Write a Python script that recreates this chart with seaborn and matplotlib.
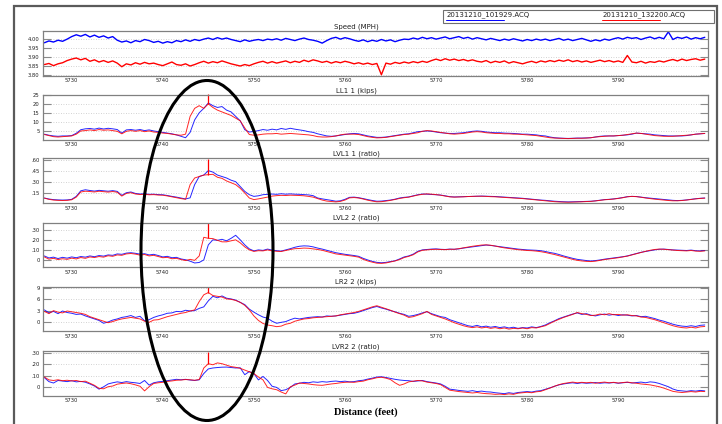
import numpy as np
import pandas as pd
import matplotlib
matplotlib.use("Agg")
import matplotlib.pyplot as plt
from matplotlib.patches import Ellipse, Rectangle
from matplotlib.lines import Line2D
import seaborn as sns

# distance along the track (feet), one reading every half foot
dist = np.arange(5727.0, 5800.0, 0.5)

run_names = ["20131210_101929.ACQ", "20131210_132200.ACQ"]
run_colors = ["#0000ff", "#ff0000"]

speed_blue = [3.978, 3.988, 3.982, 3.992, 3.986, 3.998, 4.012, 4.022, 4.014, 4.024,
              4.010, 4.020, 4.008, 4.016, 4.004, 4.012, 3.992, 3.982, 3.988, 3.978,
              3.990, 3.984, 3.996, 3.990, 3.980, 3.986, 3.976, 3.984, 3.978, 3.990,
              3.984, 3.994, 3.986, 3.996, 3.990, 3.998, 4.004, 3.996, 4.006, 3.998,
              4.004, 3.996, 3.990, 3.984, 3.994, 3.986, 3.992, 3.996, 3.990, 3.998,
              3.994, 4.000, 3.992, 4.002, 3.996, 3.990, 3.998, 4.004, 3.996, 3.992,
              3.986, 3.976, 3.990, 4.002, 4.008, 3.998, 4.006, 4.000, 3.992, 3.986,
              3.994, 3.984, 3.992, 3.986, 3.996, 3.988, 3.994, 3.984, 3.992, 3.998,
              3.996, 4.004, 3.998, 4.008, 4.000, 4.006, 3.998, 4.004, 4.010, 4.000,
              4.006, 4.012, 4.002, 4.008, 3.998, 4.006, 4.000, 3.994, 4.002, 3.996,
              3.990, 3.998, 3.992, 4.000, 3.994, 3.988, 3.996, 3.990, 3.998, 3.992,
              3.998, 3.990, 3.996, 4.002, 3.992, 3.998, 3.990, 3.996, 4.002, 3.994,
              3.986, 3.994, 3.988, 3.998, 3.992, 4.000, 4.006, 3.998, 4.008, 4.002,
              4.006, 3.996, 4.004, 4.010, 4.000, 4.008, 4.000, 4.038, 3.996, 4.008,
              4.002, 4.010, 3.998, 4.006, 4.000, 4.008]
speed_red = [3.858, 3.864, 3.852, 3.862, 3.868, 3.880, 3.888, 3.894, 3.884, 3.892,
             3.876, 3.884, 3.872, 3.880, 3.870, 3.878, 3.866, 3.846, 3.862, 3.856,
             3.868, 3.860, 3.870, 3.862, 3.866, 3.858, 3.852, 3.862, 3.872, 3.858,
             3.854, 3.862, 3.850, 3.858, 3.868, 3.876, 3.866, 3.874, 3.868, 3.878,
             3.870, 3.862, 3.856, 3.850, 3.858, 3.852, 3.862, 3.870, 3.876, 3.866,
             3.874, 3.866, 3.872, 3.878, 3.868, 3.876, 3.870, 3.882, 3.874, 3.884,
             3.878, 3.870, 3.876, 3.866, 3.874, 3.868, 3.876, 3.870, 3.862, 3.868,
             3.860, 3.866, 3.858, 3.864, 3.802, 3.866, 3.860, 3.870, 3.864, 3.872,
             3.866, 3.874, 3.868, 3.876, 3.870, 3.880, 3.888, 3.880, 3.890, 3.882,
             3.888, 3.880, 3.886, 3.878, 3.884, 3.876, 3.872, 3.880, 3.868, 3.876,
             3.870, 3.878, 3.866, 3.874, 3.868, 3.862, 3.870, 3.876, 3.868, 3.878,
             3.872, 3.880, 3.874, 3.882, 3.876, 3.884, 3.874, 3.880, 3.872, 3.878,
             3.870, 3.876, 3.882, 3.874, 3.880, 3.872, 3.878, 3.870, 3.908, 3.872,
             3.868, 3.876, 3.866, 3.874, 3.870, 3.878, 3.872, 3.880, 3.886, 3.878,
             3.888, 3.880, 3.886, 3.890, 3.882, 3.888]

ll1_blue = [3.0, 2.4, 2.0, 1.8, 2.0, 2.0, 2.2, 3.5, 5.5, 6.0,
            6.2, 5.8, 6.4, 5.9, 6.3, 6.0, 5.6, 3.6, 5.4, 5.6,
            5.2, 5.6, 5.0, 5.4, 4.8, 4.4, 4.0, 3.6, 3.2, 2.6,
            1.8, 1.0, 4.0, 11.0, 15.0, 17.5, 20.5, 19.0, 18.0, 18.5,
            16.5, 15.5, 13.0, 10.5, 5.5, 4.2, 4.5, 5.0, 5.6, 5.2,
            5.8, 5.4, 6.2, 5.7, 6.3, 5.8, 5.4, 5.0, 4.4, 4.0,
            3.2, 2.6, 2.0, 1.8, 2.0, 2.4, 2.8, 3.2, 3.4, 3.2,
            2.6, 2.0, 1.6, 1.2, 1.2, 1.4, 1.8, 2.2, 2.6, 3.0,
            3.2, 3.8, 4.4, 4.6, 4.8, 4.6, 4.2, 3.8, 3.6, 3.4,
            3.4, 3.6, 3.8, 4.2, 4.6, 4.8, 4.6, 4.2, 4.0, 3.8,
            3.8, 3.6, 3.5, 3.4, 3.2, 3.0, 3.0, 2.8, 2.6, 2.2,
            2.0, 1.4, 1.0, 0.8, 0.7, 0.6, 0.7, 0.8, 0.8, 0.9,
            1.0, 1.4, 1.8, 2.0, 2.0, 2.0, 2.2, 2.4, 2.6, 3.0,
            3.6, 3.4, 3.2, 3.0, 2.6, 2.4, 2.2, 2.0, 2.0, 2.0,
            2.0, 2.2, 2.6, 3.0, 3.2, 3.4]
ll1_red = [2.8, 2.2, 1.6, 1.4, 1.6, 1.8, 2.0, 3.0, 4.8, 5.0,
           5.4, 5.0, 5.6, 5.2, 5.4, 5.0, 4.6, 3.2, 4.6, 5.0,
           4.6, 5.0, 4.4, 4.8, 4.2, 4.0, 3.6, 3.4, 3.0, 2.6,
           2.4, 3.0, 13.0, 17.5, 19.0, 17.5, 20.0, 18.0, 16.5, 15.5,
           14.5, 13.5, 12.0, 10.5, 6.5, 2.8, 2.4, 2.6, 3.0, 3.2,
           3.2, 3.4, 3.0, 3.2, 3.4, 3.2, 3.0, 2.8, 2.6, 2.2,
           1.6, 1.4, 1.4, 1.6, 2.0, 2.6, 3.0, 3.0, 3.0, 2.8,
           2.2, 1.6, 1.2, 0.9, 1.0, 1.2, 1.6, 2.0, 2.4, 2.8,
           3.0, 3.4, 3.8, 4.6, 5.0, 4.8, 4.4, 4.0, 3.6, 3.2,
           3.0, 3.2, 3.4, 3.8, 4.2, 4.4, 4.2, 3.8, 3.6, 3.4,
           3.4, 3.2, 3.2, 3.0, 3.0, 2.8, 2.6, 2.4, 2.2, 1.8,
           1.4, 1.0, 0.8, 0.7, 0.6, 0.5, 0.6, 0.7, 0.7, 0.8,
           1.0, 1.4, 1.6, 1.8, 2.0, 2.0, 2.2, 2.4, 2.8, 3.2,
           3.6, 3.4, 3.0, 2.6, 2.2, 2.0, 1.8, 1.8, 1.8, 2.0,
           2.2, 2.4, 2.6, 3.0, 3.2, 3.4]

lvl1_blue = [.078, .064, .056, .052, .050, .052, .060, .100, .176, .190,
             .180, .172, .182, .176, .170, .178, .168, .114, .150, .160,
             .140, .132, .136, .128, .130, .124, .122, .112, .100, .090,
             .078, .065, .080, .260, .370, .390, .450, .430, .390, .370,
             .350, .320, .300, .235, .168, .123, .100, .108, .123, .128,
             .132, .128, .136, .130, .134, .130, .128, .124, .120, .110,
             .078, .066, .056, .046, .034, .040, .060, .087, .090, .082,
             .070, .056, .044, .034, .036, .043, .050, .062, .078, .087,
             .092, .108, .122, .132, .130, .126, .123, .118, .108, .096,
             .092, .094, .096, .098, .100, .102, .104, .102, .100, .098,
             .094, .090, .086, .082, .078, .074, .068, .062, .056, .050,
             .046, .040, .034, .030, .027, .025, .026, .028, .030, .032,
             .034, .040, .048, .056, .060, .066, .074, .084, .096, .100,
             .098, .090, .082, .076, .070, .064, .058, .052, .046, .043,
             .046, .052, .060, .068, .074, .078]
lvl1_red = [.076, .060, .050, .046, .044, .046, .054, .090, .160, .170,
            .166, .160, .170, .164, .158, .166, .156, .104, .140, .150,
            .132, .126, .128, .122, .124, .118, .116, .106, .094, .082,
            .070, .060, .260, .350, .370, .390, .395, .400, .360, .345,
            .310, .285, .260, .210, .146, .078, .056, .066, .078, .090,
            .104, .110, .114, .112, .116, .114, .112, .108, .100, .090,
            .070, .050, .036, .030, .025, .032, .050, .080, .084, .078,
            .064, .048, .036, .026, .028, .036, .046, .058, .072, .082,
            .090, .104, .118, .128, .134, .130, .124, .116, .104, .094,
            .090, .092, .094, .098, .100, .102, .102, .100, .096, .094,
            .090, .086, .082, .078, .074, .070, .064, .058, .052, .046,
            .040, .034, .028, .024, .022, .020, .022, .024, .026, .030,
            .032, .038, .046, .054, .058, .064, .072, .082, .094, .100,
            .096, .088, .078, .070, .062, .056, .050, .044, .040, .040,
            .044, .050, .058, .066, .072, .076]

lvl2_blue = [.040, .020, .028, .014, .026, .018, .030, .022, .034, .028,
             .040, .032, .044, .038, .050, .046, .060, .056, .068, .072,
             .066, .058, .062, .050, .056, .044, .030, .036, .022, .026,
             .010, .002, -.012, -.030, -.025, .000, .150, .200, .195, .205,
             .190, .215, .245, .200, .150, .110, .090, .100, .095, .108,
             .098, .092, .088, .100, .112, .126, .136, .140, .138, .130,
             .118, .108, .096, .084, .072, .064, .056, .050, .044, .036,
             .016, .000, -.014, -.024, -.028, -.024, -.016, -.008, .010, .030,
             .040, .058, .086, .100, .104, .108, .110, .106, .104, .108,
             .106, .110, .118, .124, .130, .136, .142, .148, .144, .138,
             .132, .126, .120, .114, .108, .104, .100, .098, .096, .092,
             .084, .074, .066, .054, .040, .028, .016, .006, .000, -.006,
             -.010, -.006, .000, .008, .014, .020, .026, .032, .040, .052,
             .064, .076, .084, .092, .100, .106, .108, .104, .100, .098,
             .096, .094, .098, .092, .090, .094]
lvl2_red = [.030, .008, .016, .004, .012, .006, .018, .010, .024, .016,
            .030, .024, .034, .028, .042, .036, .050, .046, .060, .064,
            .058, .048, .054, .040, .046, .034, .022, .026, .012, .016,
            .004, -.006, .006, -.004, .040, .225, .215, .212, .195, .180,
            .180, .190, .200, .170, .130, .100, .085, .092, .090, .100,
            .090, .086, .084, .094, .104, .112, .114, .118, .116, .110,
            .104, .096, .084, .072, .060, .054, .048, .042, .036, .028,
            .006, -.010, -.022, -.032, -.034, -.030, -.020, -.010, .004, .024,
            .036, .052, .080, .096, .100, .104, .106, .104, .102, .106,
            .106, .112, .120, .128, .136, .142, .148, .150, .146, .138,
            .128, .120, .114, .108, .102, .098, .094, .092, .088, .082,
            .074, .064, .054, .042, .030, .018, .006, -.004, -.010, -.014,
            -.016, -.012, -.004, .004, .010, .016, .022, .030, .038, .050,
            .062, .074, .086, .096, .104, .108, .106, .102, .098, .094,
            .092, .090, .094, .088, .086, .090]

lr2_blue = [3.2, 2.4, 2.8, 2.2, 2.9, 2.5, 2.3, 2.0, 2.1, 1.6,
            1.2, 0.8, 0.4, -0.35, 0.0, 0.5, 0.8, 1.2, 1.4, 1.7,
            1.2, 1.5, 0.3, 0.6, 1.2, 1.6, 1.9, 2.3, 2.4, 2.8,
            2.7, 3.1, 2.9, 3.0, 3.6, 4.0, 5.6, 6.8, 6.4, 6.9,
            6.3, 6.1, 5.8, 5.2, 4.6, 3.4, 2.6, 1.9, 1.3, 1.0,
            0.2, -0.35, -0.1, 0.1, 0.6, 1.0, 0.8, 1.0, 1.2, 1.3,
            1.4, 1.3, 1.6, 1.5, 1.6, 1.8, 2.0, 2.2, 2.3, 2.6,
            3.0, 3.4, 3.8, 4.1, 3.7, 3.4, 3.0, 2.7, 2.3, 2.0,
            1.5, 1.7, 2.0, 2.4, 2.7, 2.2, 1.8, 1.4, 1.2, 0.6,
            0.2, -0.2, -0.6, -1.0, -1.2, -0.9, -1.3, -1.1, -1.4, -1.2,
            -1.5, -1.3, -1.6, -1.4, -1.7, -1.5, -1.6, -1.3, -1.5, -1.2,
            -0.8, -0.2, 0.3, 0.9, 1.3, 1.7, 2.1, 2.4, 2.0, 2.2,
            1.8, 1.6, 1.9, 2.1, 1.8, 2.0, 1.7, 1.9, 1.8, 1.6,
            1.7, 1.4, 1.5, 1.2, 0.9, 0.5, 0.2, -0.2, -0.6, -0.9,
            -1.1, -1.2, -1.0, -1.2, -0.9, -0.8]
lr2_red = [2.8, 2.2, 3.0, 2.6, 2.4, 2.9, 2.7, 2.5, 2.3, 2.0,
           1.4, 1.0, 0.6, 0.2, -0.2, 0.1, 0.5, 0.8, 1.0, 1.2,
           1.0, 0.8, 0.2, -0.1, 0.5, 0.6, 1.0, 1.4, 1.7, 2.0,
           2.3, 2.5, 2.9, 3.2, 5.4, 7.2, 7.8, 7.0, 6.8, 6.6,
           6.1, 6.0, 5.7, 5.2, 4.4, 3.2, 1.6, 0.4, -0.4, -0.8,
           -1.0, -1.25, -1.1, -0.6, -0.35, 0.2, 0.5, 0.8, 0.9, 1.1,
           1.2, 1.3, 1.4, 1.5, 1.6, 1.9, 2.1, 2.3, 2.5, 2.8,
           3.2, 3.6, 4.0, 4.3, 3.9, 3.5, 3.1, 2.6, 2.2, 1.8,
           1.2, 1.4, 1.8, 2.2, 2.8, 2.0, 1.6, 1.2, 0.8, 0.3,
           -0.2, -0.6, -1.0, -1.3, -1.5, -1.3, -1.6, -1.4, -1.7, -1.5,
           -1.8, -1.6, -1.9, -1.7, -1.8, -1.6, -1.8, -1.5, -1.6, -1.3,
           -1.0, -0.4, 0.2, 0.7, 1.2, 1.6, 2.0, 2.5, 2.2, 2.0,
           1.7, 1.8, 2.1, 1.9, 2.2, 1.9, 2.0, 1.8, 1.9, 1.7,
           1.6, 1.3, 1.2, 0.9, 0.6, 0.2, -0.2, -0.6, -1.0, -1.3,
           -1.5, -1.6, -1.4, -1.6, -1.3, -1.2]

lvr2_blue = [.085, .050, .038, .060, .055, .050, .058, .048, .052, .045,
             .030, .012, -.015, .005, .030, .040, .048, .042, .050, .044,
             .040, .034, .060, .020, .040, .048, .052, .058, .064, .070,
             .066, .070, .064, .060, .066, .120, .160, .168, .172, .175,
             .176, .172, .168, .170, .110, .137, .120, .065, .095, .060,
             .010, .000, -.028, -.020, .000, .030, .036, .044, .040, .048,
             .044, .050, .046, .052, .055, .050, .054, .048, .050, .058,
             .062, .072, .080, .090, .092, .086, .078, .070, .064, .060,
             .058, .052, .056, .060, .050, .044, .038, .030, .010, -.015,
             -.020, -.026, -.030, -.034, -.028, -.036, -.032, -.038, -.040, -.046,
             -.050, -.054, -.046, -.052, -.044, -.040, -.036, -.040, -.032, -.028,
             -.016, -.004, .010, .022, .030, .036, .040, .034, .040, .036,
             .038, .042, .036, .040, .038, .042, .036, .040, .044, .038,
             .042, .046, .040, .048, .044, .034, .020, .006, -.014, -.026,
             -.030, -.034, -.028, -.032, -.026, -.030]
lvr2_red = [.090, .065, .060, .066, .058, .062, .056, .060, .050, .054,
            .036, .018, -.008, -.012, .006, .012, .028, .034, .038, .032,
            .022, .010, -.030, .006, .034, .040, .044, .052, .056, .062,
            .064, .068, .066, .062, .068, .168, .205, .196, .212, .205,
            .192, .180, .174, .165, .150, .135, .120, .090, .065, .000,
            -.012, -.020, -.040, -.056, .005, .020, .038, .034, .030, .024,
            .020, .018, .024, .030, .034, .040, .044, .046, .044, .050,
            .054, .066, .074, .084, .088, .080, .068, .040, .018, .030,
            .048, .054, .060, .056, .046, .040, .034, .024, .000, -.024,
            -.030, -.036, -.040, -.044, -.048, -.044, -.050, -.054, -.056, -.060,
            -.058, -.062, -.056, -.060, -.050, -.046, -.042, -.046, -.038, -.034,
            -.020, -.006, .010, .024, .034, .040, .046, .040, .044, .040,
            .044, .036, .042, .046, .040, .044, .038, .042, .046, .040,
            .036, .030, .026, .022, .014, .006, -.006, -.020, -.034, -.040,
            -.044, -.040, -.036, -.040, -.034, -.036]

# red run shows a single-sample spike at 5745 ft in the load channels
spike_at = 5745.0
spike_tops = [None, 25.5, 0.61, 0.37, 9.4, 0.31]

titles = ["Speed (MPH)", "LL1 1 (kips)", "LVL1 1 (ratio)", "LVL2 2 (ratio)",
          "LR2 2 (kips)", "LVR2 2 (ratio)"]
ylims = [(3.795, 4.04), (0, 25), (0.01, 0.615), (-0.07, 0.372), (-2.4, 9.4), (-0.07, 0.315)]
yticks = [[3.80, 3.85, 3.90, 3.95, 4.00], [5, 10, 15, 20, 25], [.15, .30, .45, .60],
          [0, .10, .20, .30], [0, 3, 6, 9], [0, .10, .20, .30]]
yticklabels = [["3.80", "3.85", "3.90", "3.95", "4.00"], ["5", "10", "15", "20", "25"],
               [".15", ".30", ".45", ".60"], ["0", ".10", ".20", ".30"],
               ["0", "3", "6", "9"], ["0", ".10", ".20", ".30"]]
xticks = [5730, 5740, 5750, 5760, 5770, 5780, 5790]
blue_series = [speed_blue, ll1_blue, lvl1_blue, lvl2_blue, lr2_blue, lvr2_blue]
red_series = [speed_red, ll1_red, lvl1_red, lvl2_red, lr2_red, lvr2_red]

sns.set_style("white")
plt.rcParams["font.family"] = ["DejaVu Sans"]

W, H = 722, 424
fig = plt.figure(figsize=(W / 100, H / 100), dpi=100)

def fx(px):
    return px / W

def fy(py):
    return 1 - py / H

# panel tops in pixels
tops = [31.5, 95.0, 158.5, 222.5, 286.5, 351.0]
ph = 44.5
left, right = 43.0, 707.5

for i in range(6):
    ax = fig.add_axes([fx(left), fy(tops[i] + ph), (right - left) / W, ph / H])
    df = pd.DataFrame({"dist": dist, "blue": blue_series[i], "red": red_series[i]})
    lw = 1.0 if i == 0 else 0.7
    al = 1.0 if i == 0 else 0.85
    sns.lineplot(data=df, x="dist", y="blue", ax=ax, color=run_colors[0], lw=lw, alpha=al, estimator=None)
    sns.lineplot(data=df, x="dist", y="red", ax=ax, color=run_colors[1], lw=lw, alpha=al, estimator=None)
    if spike_tops[i] is not None:
        base = df.loc[df["dist"] == spike_at, "red"].iloc[0]
        ax.vlines(spike_at, base, spike_tops[i], color=run_colors[1], lw=0.9, clip_on=False)
    ax.set_xlim(5726.85, 5799.8)
    ax.set_ylim(*ylims[i])
    ax.set_xticks(xticks)
    ax.set_xticklabels([str(t) for t in xticks])
    ax.set_yticks(yticks[i])
    ax.set_yticklabels(yticklabels[i])
    ax.set_xlabel("")
    ax.set_ylabel("")
    ax.yaxis.grid(True, linestyle=(0, (1, 2)), color="#c4c4c4", lw=0.6)
    ax.xaxis.grid(False)
    ax.tick_params(axis="y", direction="in", length=6, width=0.8, color="#8a8a8a",
                   labelsize=3.8, pad=2.5, right=True, left=True, labelcolor="#222222")
    ax.tick_params(axis="x", length=0, labelsize=3.8, pad=1.8, labelcolor="#222222")
    for s in ax.spines.values():
        s.set_color("#808080")
        s.set_linewidth(0.9)
    ax.text((356 - left) / (right - left), 1.03, titles[i], transform=ax.transAxes,
            ha="center", va="bottom", fontsize=5.0, color="#222222")

fig.text(fx(366), fy(412), "Distance (feet)", ha="center", va="center",
         fontsize=7.5, fontweight="bold", family="Liberation Serif", color="black")

# legend box at the top right
fig.add_artist(Rectangle((fx(443), fy(23)), (714 - 443) / W, 13 / H, transform=fig.transFigure,
                         fill=False, ec="#707070", lw=0.8))
leg_x = [447, 603]
for name, col, x0 in zip(run_names, run_colors, leg_x):
    fig.text(fx(x0), fy(15), name, ha="left", va="center", fontsize=5.0, color="#222222")
    fig.add_artist(Line2D([fx(x0 - 1), fx(x0 + 57)], [fy(19.5), fy(19.5)],
                          transform=fig.transFigure, color=col, lw=0.7))

# outer frame
fig.add_artist(Rectangle((fx(14), fy(430)), (716.5 - 14) / W, (430 - 5.5) / H,
                         transform=fig.transFigure, fill=False, ec="#5a5a5a", lw=1.6, clip_on=False))

# hand-drawn ellipse around the event
fig.add_artist(Ellipse((fx(207), fy(250.5)), 132 / W, 340 / H, transform=fig.transFigure,
                       fill=False, ec="black", lw=2.2, zorder=20))

fig.savefig("out.png", dpi=100)
